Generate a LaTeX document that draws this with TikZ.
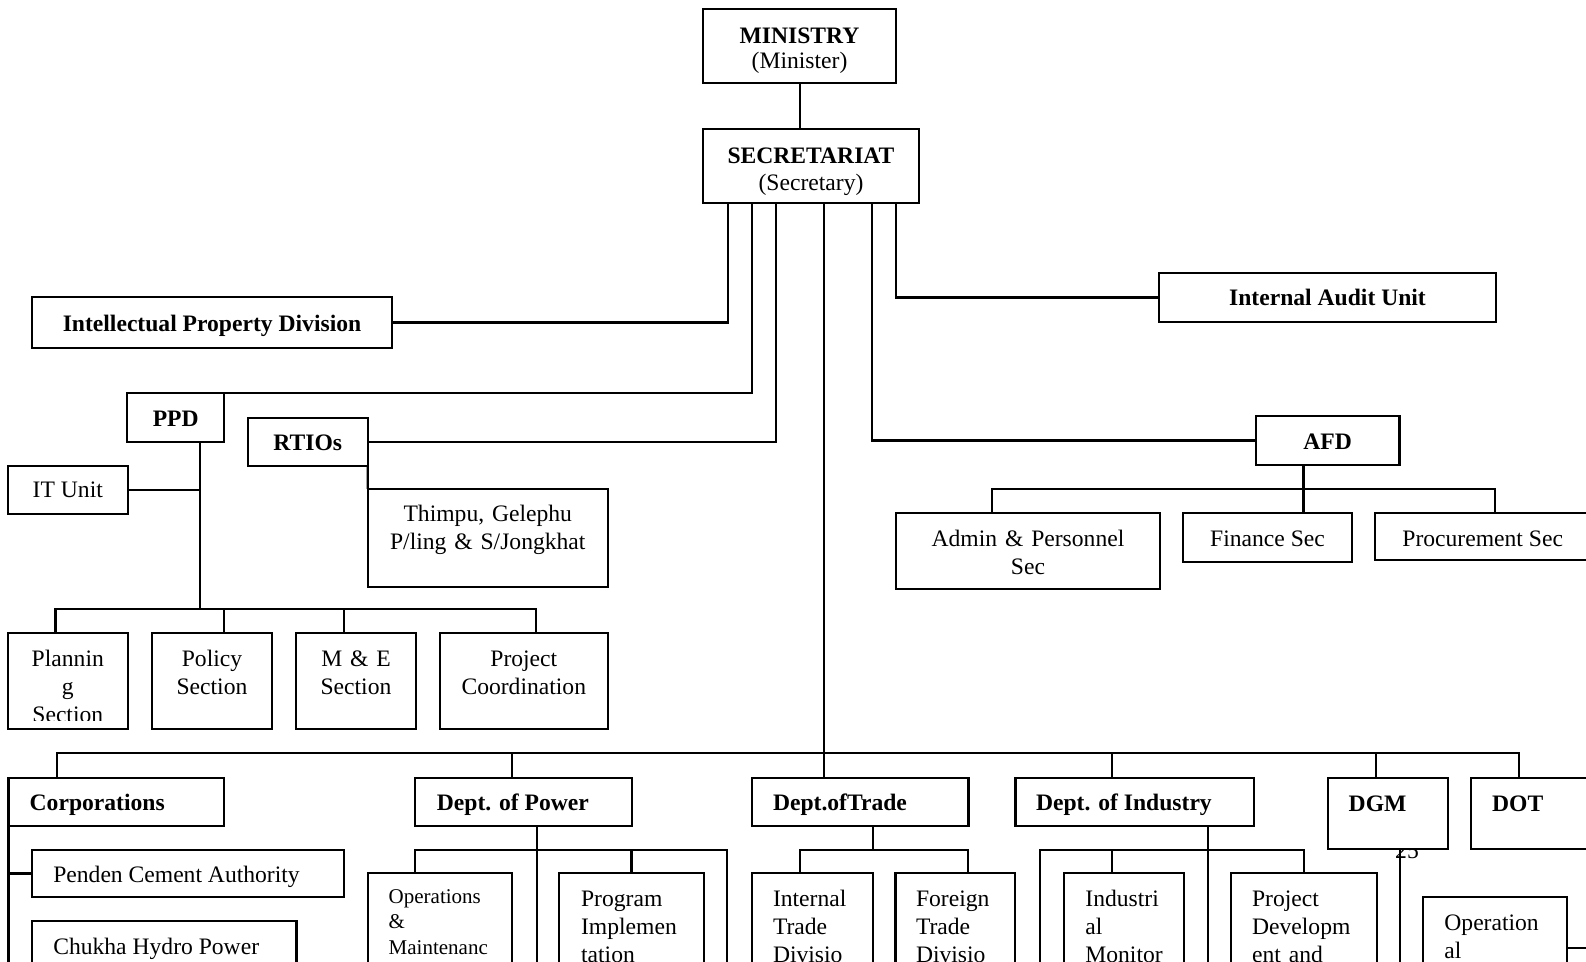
\documentclass[tikz,border=0pt]{standalone}
\usepackage{fontspec}
\setmainfont{Liberation Serif}
\begin{document}
\begin{tikzpicture}[x=0.5pt,y=-0.5pt,
  boxst/.style={draw,line width=1.1pt,fill=white,inner sep=0pt,outer sep=0pt},
  conn/.style={line width=1.1pt,line join=miter},
  lbl/.style={inner sep=0pt,font=\fontsize{11.8}{14}\selectfont},
  blbl/.style={inner sep=0pt,font=\fontsize{11.8}{14}\selectfont\bfseries},
  slbl/.style={inner sep=0pt,font=\fontsize{10.5}{12.7}\selectfont}]
\useasboundingbox (0,0) rectangle (1586,962);
\clip (0,0) rectangle (1586,962);
\newcommand\bx[5]{\node[boxst,minimum width={(#4-#2)*0.5pt},minimum height={(#5-#3)*0.5pt}] (#1) at ({(#2+#4)/2},{(#3+#5)/2}) {};}
% page number behind DGM box
\node[lbl,anchor=base] (pgno) at (1407,858.3) {25};
% boxes
\bx{min}{703.3}{9.3}{896}{82.7}
\bx{sec}{703}{129.3}{919}{202.7}
\bx{ipd}{31.7}{297.3}{392.3}{347.7}
\bx{iau}{1159.3}{273.3}{1496}{321.7}
\bx{ppd}{127.3}{393.3}{224.2}{441.7}
\bx{rtio}{247.9}{417.7}{367.7}{465.7}
\bx{itu}{7.9}{465.7}{127.7}{513.7}
\bx{thim}{367.7}{489}{607.8}{587}
\bx{plan}{7.9}{633.3}{127.7}{729}
\bx{pol}{151.8}{633.3}{272}{729}
\bx{me}{295.8}{633.3}{416}{729}
\bx{pc}{439.7}{633.3}{607.8}{729}
\bx{afd}{1255.8}{416}{1399.4}{465}
\bx{adm}{896}{513.3}{1160}{589.3}
\bx{fin}{1183}{513.3}{1352}{561.7}
\bx{proc}{1375}{513.3}{1600}{560}
\bx{corp}{8.5}{777.7}{223.7}{825.7}
\bx{pow}{415.3}{777.7}{632.2}{825.7}
\bx{trade}{751.8}{777.7}{968.5}{825.7}
\bx{ind}{1015.5}{777.7}{1254}{825.7}
\bx{dgm}{1327.7}{777.7}{1447.8}{849}
\bx{dot}{1471.3}{777.7}{1600}{849}
\bx{pen}{32.1}{850}{343.6}{897}
\bx{chu}{32.1}{921}{296.4}{1000}
\bx{om}{368.1}{873.3}{512}{1000}
\bx{prog}{559.2}{873.3}{704.1}{1000}
\bx{itd}{751.8}{873.3}{873}{1000}
\bx{ftd}{895.4}{873.3}{1014.9}{1000}
\bx{indm}{1064}{873.3}{1184}{1000}
\bx{pdev}{1231}{873.3}{1377}{1000}
\bx{opal}{1423.3}{897}{1567.3}{1000}
% texts
\node[blbl,anchor=base] (tmin) at (799.5,43.3) {MINISTRY};
\node[lbl,anchor=base] (tmin2) at (799.5,68.8) {(Minister)};
\node[blbl,anchor=base] (tsec) at (811,163.3) {SECRETARIAT};
\node[lbl,anchor=base] (tsec2) at (811,191) {(Secretary)};
\node[blbl,anchor=base] (tipd) at (212,331.7) {Intellectual Property Division};
\node[blbl,anchor=base] (tiau) at (1327.5,306) {Internal Audit Unit};
\node[blbl,anchor=base] (tppd) at (175.75,426.7) {PPD};
\node[blbl,anchor=base] (trtio) at (307.8,450.7) {RTIOs};
\node[lbl,anchor=base] (titu) at (67.8,497.3) {IT Unit};
\node[lbl,anchor=base,text width=230pt,align=center] (tthim) at (487.8,521.7) {Thimpu, Gelephu\\P/ling \& S/Jongkhat};
\begin{scope}
\clip (7.9,633.3) rectangle (127.7,720);
\node[lbl,anchor=base,text width=55pt,align=center] (tplan) at (67.8,666.7) {Plannin\\g\\Section};
\end{scope}
\node[lbl,anchor=base,text width=55pt,align=center] (tpol) at (212,666.7) {Policy\\Section};
\node[lbl,anchor=base,text width=55pt,align=center] (tme) at (356,666.7) {M \& E\\Section};
\node[lbl,anchor=base,text width=80pt,align=center] (tpc) at (523.8,666.7) {Project\\Coordination};
\node[blbl,anchor=base] (tafd) at (1327.6,449.7) {AFD};
\node[lbl,anchor=base,text width=125pt,align=center] (tadm) at (1028,546.7) {Admin \& Personnel\\Sec};
\node[lbl,anchor=base] (tfin) at (1267.5,546.7) {Finance Sec};
\node[lbl,anchor=base west] (tproc) at (1402,546.7) {Procurement Sec};
\node[blbl,anchor=base west] (tcorp) at (29.3,810.5) {Corporations};
\node[blbl,anchor=base west] (tpow) at (436.5,810.5) {Dept. of Power};
\node[blbl,anchor=base west] (ttrade) at (772.6,810.5) {Dept.ofTrade};
\node[blbl,anchor=base west] (tind) at (1035.7,810.5) {Dept. of Industry};
\node[blbl,anchor=base west] (tdgm) at (1348.3,811) {DGM};
\node[blbl,anchor=base west] (tdot) at (1491.7,811) {DOT};
\node[lbl,anchor=base west] (tpen) at (52.9,882) {Penden Cement Authority};
\node[lbl,anchor=base west] (tchu) at (52.9,954) {Chukha Hydro Power};
\node[slbl,anchor=base west,text width=65pt,align=left] (tom) at (388.3,903.3) {Operations\\\&\\Maintenanc};
\node[lbl,anchor=base west,text width=65pt,align=left] (tprog) at (580.7,906.3) {Program\\Implemen\\tation};
\node[lbl,anchor=base west,text width=55pt,align=left] (titd) at (772.6,906.5) {Internal\\Trade\\Divisio};
\node[lbl,anchor=base west,text width=55pt,align=left] (tftd) at (915.6,906.5) {Foreign\\Trade\\Divisio};
\node[lbl,anchor=base west,text width=55pt,align=left] (tindm) at (1085,906.7) {Industri\\al\\Monitor};
\node[lbl,anchor=base west,text width=65pt,align=left] (tpdev) at (1251.7,906.5) {Project\\Developm\\ent and};
\node[lbl,anchor=base west,text width=60pt,align=left] (topal) at (1444,930) {Operation\\al};
% connectors from the top
\draw[conn] (min.south) -- (min.south |- sec.north);
\draw[conn] (sec.south -| 728,0) |- (ipd.east);
\draw[conn] (sec.south -| 752,0) |- (ppd.north east);
\draw[conn] (sec.south -| 776,0) |- (rtio.east);
\draw[conn] (sec.south -| 824,0) -- (trade.north -| 824,0);
\draw[conn] (sec.south -| 872,0) |- (afd.west);
\draw[conn] (sec.south -| 896,0) |- (iau.west);
% PPD
\draw[conn] (ppd.south -| 199.7,0) -- (199.7,609.3);
\draw[conn] (itu.east) -- (itu.east -| 199.7,0);
\draw[conn] (plan.north -| 55.4,0) -- (55.4,609.3) -- (535.8,609.3) -- (pc.north -| 535.8,0);
\draw[conn] (224.2,609.3) -- (pol.north -| 224.2,0);
\draw[conn] (344,609.3) -- (me.north -| 344,0);
% RTIOs
\draw[conn] (rtio.south east) -- (thim.north west);
% AFD
\draw[conn] (afd.south -| 1303.5,0) -- (fin.north -| 1303.5,0);
\draw[conn] (adm.north -| 992,0) -- (992,489.3) -- (1495,489.3) -- (proc.north -| 1495,0);
% main bus
\draw[conn] (corp.north -| 56.6,0) -- (56.6,753.3) -- (1519,753.3) -- (dot.north -| 1519,0);
\draw[conn] (512,753.3) -- (pow.north -| 512,0);
\draw[conn] (1112,753.3) -- (ind.north -| 1112,0);
\draw[conn] (1375.7,753.3) -- (dgm.north -| 1375.7,0);
% Corporations
\draw[conn] (corp.south west) -- (corp.south west |- 0,1000);
\draw[conn] (pen.west) -- (pen.west -| corp.west);
% Power
\draw[conn] (pow.south -| 536.6,0) -- (536.6,1000);
\draw[conn] (om.north -| 415.3,0) -- (415.3,850) -- (726.8,850) -- (726.8,1000);
\draw[conn] (631.4,850) -- (prog.north -| 631.4,0);
% Trade
\draw[conn] (trade.south -| 873,0) -- (873,850);
\draw[conn] (itd.north -| 799.9,0) -- (799.9,850) -- (968,850) -- (ftd.north -| 968,0);
% Industry
\draw[conn] (ind.south -| 1208,0) -- (1208,1000);
\draw[conn] (1040,1000) -- (1040,850) -- (1304,850) -- (pdev.north -| 1304,0);
\draw[conn] (1112,850) -- (indm.north -| 1112,0);
% DGM
\draw[conn] (dgm.south -| 1400,0) -- (1400,1000);
% Operational
\draw[conn] (opal.east |- 0,948) -- (1600,948);
\end{tikzpicture}
\end{document}
